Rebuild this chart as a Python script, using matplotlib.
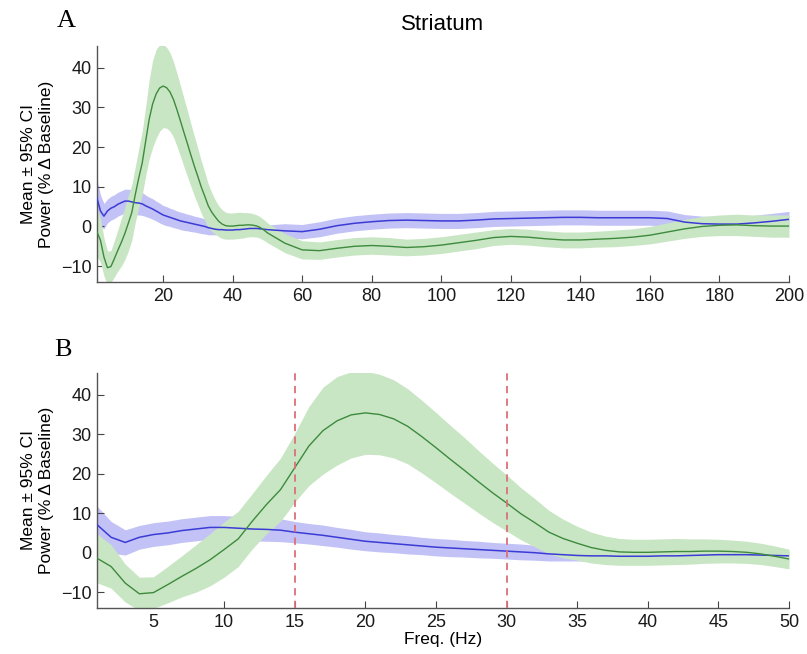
import numpy as np
import matplotlib
matplotlib.use("Agg")
import matplotlib.pyplot as plt

plt.rcParams['font.family'] = ['Liberation Sans', 'DejaVu Sans']

# ---- data ----
freq_lo = list(range(1, 51))
freq_hi = list(range(55, 201, 5))

green_mean_lo = [-1.4, -3.5, -7.7, -10.4, -10.1, -8.1, -6.0, -4.0, -1.8, 0.8,
                 3.5, 8.0, 12.2, 16.0, 21.5, 27.0, 30.9, 33.4, 34.9, 35.4,
                 35.0, 33.9, 32.0, 29.4, 26.6, 23.7, 20.9, 18.0, 15.2, 12.6,
                 9.9, 7.6, 5.2, 3.6, 2.4, 1.3, 0.6, 0.2, 0.1, 0.1,
                 0.2, 0.3, 0.3, 0.4, 0.4, 0.3, 0.1, -0.3, -0.9, -1.6]
green_ci_lo = [6.2, 5.5, 4.8, 4.2, 4.0, 4.6, 5.2, 6.0, 6.6, 7.0,
               7.0, 7.0, 7.4, 8.0, 8.7, 10.0, 11.0, 11.2, 10.9, 10.5,
               10.2, 9.9, 9.5, 9.2, 8.9, 8.6, 8.3, 7.9, 7.5, 7.1,
               6.6, 6.1, 5.5, 4.9, 4.3, 3.9, 3.6, 3.4, 3.3, 3.3,
               3.3, 3.3, 3.2, 3.1, 3.0, 2.9, 2.8, 2.7, 2.6, 2.5]
blue_mean_lo = [7.1, 3.9, 2.6, 3.9, 4.6, 5.0, 5.6, 6.0, 6.4, 6.4,
                6.2, 6.0, 5.9, 5.7, 5.2, 4.8, 4.4, 3.9, 3.4, 2.9,
                2.6, 2.3, 2.0, 1.7, 1.4, 1.2, 1.0, 0.8, 0.6, 0.4,
                0.2, 0.0, -0.3, -0.5, -0.7, -0.8, -0.8, -0.9, -0.9, -0.9,
                -0.8, -0.8, -0.7, -0.6, -0.5, -0.5, -0.5, -0.6, -0.7, -0.8]
blue_ci_lo = [4.7, 4.0, 3.2, 3.0, 3.0, 3.0, 3.0, 3.0, 3.0, 3.0,
              3.0, 3.0, 3.0, 2.9, 2.7, 2.6, 2.6, 2.5, 2.5, 2.4,
              2.4, 2.3, 2.3, 2.2, 2.2, 2.2, 2.1, 2.1, 2.0, 2.0,
              2.0, 1.9, 1.8, 1.6, 1.4, 1.3, 1.2, 1.2, 1.2, 1.2,
              1.2, 1.2, 1.2, 1.2, 1.2, 1.2, 1.2, 1.2, 1.2, 1.2]

green_mean_hi = [-4.2, -5.9, -6.1, -5.5, -5.0, -4.8, -5.0, -5.3, -5.1, -4.7,
                 -4.1, -3.5, -2.8, -2.5, -2.7, -3.1, -3.4, -3.4, -3.2, -3.0,
                 -2.7, -2.2, -1.4, -0.6, 0.0, 0.3, 0.4, 0.2, 0.1, 0.1]
green_ci_hi = [2.4, 2.3, 2.2, 2.2, 2.2, 2.2, 2.2, 2.1, 2.1, 2.1,
               2.1, 2.1, 2.0, 2.0, 2.0, 2.0, 2.0, 2.0, 2.0, 2.1,
               2.1, 2.2, 2.3, 2.4, 2.5, 2.6, 2.7, 2.7, 2.8, 2.8]
blue_mean_hi = [-1.1, -1.3, -0.7, 0.2, 0.8, 1.2, 1.5, 1.6, 1.5, 1.4,
                1.4, 1.6, 1.9, 2.0, 2.1, 2.2, 2.3, 2.3, 2.2, 2.2,
                2.2, 2.2, 2.0, 1.1, 0.7, 0.6, 0.6, 0.9, 1.3, 1.8]
blue_ci_hi = [1.8, 1.8, 1.9, 1.9, 1.9, 1.9, 1.9, 1.9, 1.9, 1.9,
              1.9, 1.9, 1.9, 1.9, 1.9, 1.9, 1.9, 1.9, 1.9, 1.9,
              1.9, 1.9, 1.9, 1.9, 1.9, 1.9, 1.9, 1.9, 2.0, 2.0]

beta_band = [15, 30]

xticks_a = [20, 40, 60, 80, 100, 120, 140, 160, 180, 200]
xticks_b = [5, 10, 15, 20, 25, 30, 35, 40, 45, 50]
yticks = [-10, 0, 10, 20, 30, 40]

freq = np.array(freq_lo + freq_hi, dtype=float)
g_m = np.array(green_mean_lo + green_mean_hi)
g_c = np.array(green_ci_lo + green_ci_hi)
b_m = np.array(blue_mean_lo + blue_mean_hi)
b_c = np.array(blue_ci_lo + blue_ci_hi)

BLUE_LINE = '#3b3bd6'
BLUE_FILL = '#c2c2f6'
GREEN_LINE = '#3d8a3d'
GREEN_FILL = '#c9e6c4'

fig = plt.figure(figsize=(8.07, 6.54), dpi=100)
axA = fig.add_axes([97/807, 1-282/654, 692/807, 236/654])
axB = fig.add_axes([97/807, 1-608/654, 692/807, 235/654])


def draw(ax, xmax):
    m = freq <= xmax
    ax.fill_between(freq[m], (b_m - b_c)[m], (b_m + b_c)[m], color=BLUE_FILL,
                    linewidth=0, zorder=1)
    ax.fill_between(freq[m], (g_m - g_c)[m], (g_m + g_c)[m], color=GREEN_FILL,
                    linewidth=0, zorder=2)
    ax.plot(freq[m], b_m[m], color=BLUE_LINE, lw=1.1, zorder=3)
    ax.plot(freq[m], g_m[m], color=GREEN_LINE, lw=1.0, zorder=4)
    ax.set_xlim(1, xmax)
    ax.set_ylim(-14, 45.5)
    ax.set_yticks(yticks)
    for s in ['top', 'right']:
        ax.spines[s].set_visible(False)
    for s in ['left', 'bottom']:
        ax.spines[s].set_color('#555555')
        ax.spines[s].set_linewidth(1.0)
    ax.tick_params(direction='in', length=5, width=0.8, color='#444444',
                   labelsize=13, labelcolor='#1a1a1a', pad=4)
    ax.set_ylabel('Mean \u00b1 95% CI\nPower (% \u0394 Baseline)', fontsize=12.5,
                  labelpad=5, linespacing=1.2)


draw(axA, 200)
axA.set_xticks(xticks_a)
draw(axB, 50)
axB.set_xticks(xticks_b)
for v in beta_band:
    axB.axvline(v, color='#dc7078', lw=1.3, ls=(0, (4, 3)), zorder=5)
axB.set_xlabel('Freq. (Hz)', fontsize=12.5, labelpad=1)

fig.text(443/807, 1-25/654, 'Striatum', ha='center', va='center', fontsize=16)
fig.text(57/807, 1-21/654, 'A', ha='left', va='center', fontsize=19,
         family=['Liberation Serif', 'DejaVu Serif'])
fig.text(54/807, 1-350/654, 'B', ha='left', va='center', fontsize=19,
         family=['Liberation Serif', 'DejaVu Serif'])

fig.savefig('out.png', dpi=100)
